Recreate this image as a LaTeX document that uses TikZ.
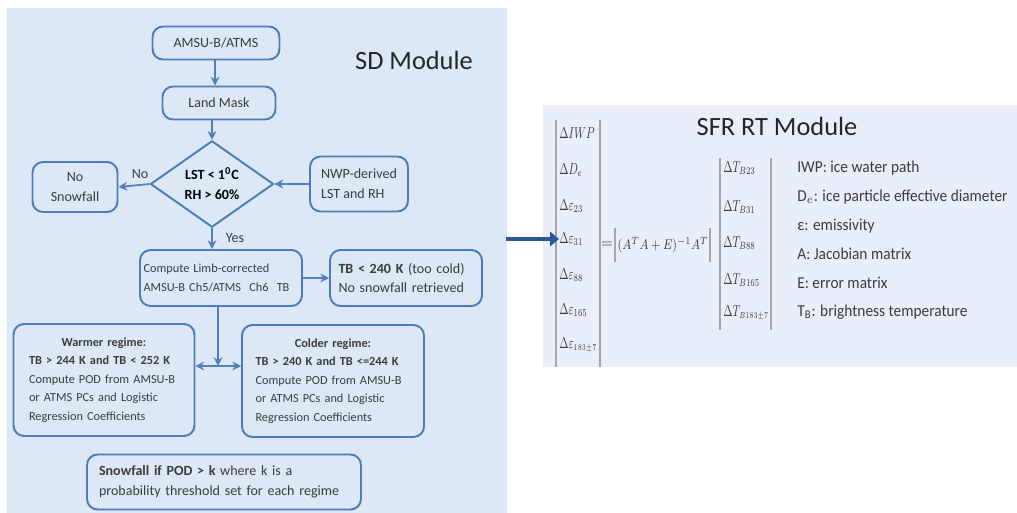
\documentclass[tikz,border=0pt]{standalone}
\usepackage{fontspec}
\usepackage{graphicx}
\setmainfont{Carlito}
\usetikzlibrary{arrows.meta,shapes.geometric}
\definecolor{sdback}{HTML}{DCE8F5}
\definecolor{rtback}{HTML}{E9EEFB}
\definecolor{boxline}{HTML}{4A7EBB}
\definecolor{arrline}{HTML}{4F81BD}
\definecolor{bigblue}{HTML}{2E5596}
\definecolor{txt}{HTML}{3C3C3C}
\tikzset{
  flowbox/.style={draw=boxline, line width=1.1pt, rounded corners=6pt, text=txt, inner sep=0pt},
  flowarrow/.style={draw=arrline, line width=1pt, -{Stealth[length=5pt,width=5pt]}},
  matbar/.style={draw=gray!70, line width=0.6pt},
  matent/.style={anchor=west, inner sep=0pt, text=txt, font=\fontsize{9}{10}\selectfont},
}

\begin{document}
\begin{tikzpicture}[x=0.02cm,y=-0.02cm]
\useasboundingbox (0,0) rectangle (1017,513);
\fill[sdback] (7,8) rectangle (507,513);
\fill[rtback] (543,105) rectangle (1017,367);

\node[text=black!85, font=\fontsize{15}{18}\selectfont] (sdtitle) at (414,60) {SD Module};
\node[flowbox, minimum width=2.54cm, minimum height=0.66cm, font=\fontsize{8}{10}\selectfont] (amsu) at (216,43) {AMSU-B/ATMS};
\node[flowbox, minimum width=2.26cm, minimum height=0.66cm, font=\fontsize{8}{10}\selectfont] (land) at (219,103) {Land Mask};
\node[flowbox, rounded corners=0pt, shape=diamond, minimum width=2.46cm, minimum height=1.64cm, align=center, text=black, font=\bfseries\fontsize{8}{11.3}\selectfont] (check) at (212,184) {LST < 1\textsuperscript{0}C\\RH > 60\%};
\node[flowbox, minimum width=1.7cm, minimum height=1.0cm, align=center, font=\fontsize{8}{11.3}\selectfont] (nosnow) at (75,187) {No\\Snowfall};
\node[flowbox, minimum width=1.96cm, minimum height=1.1cm, align=left, font=\fontsize{8}{11.3}\selectfont] (nwp) at (359,184) {NWP-derived\\LST and RH\hspace{3.6mm}};
\node[flowbox, minimum width=3.24cm, minimum height=1.12cm, text width=3.1cm, align=left, font=\fontsize{7}{10.8}\selectfont] (limb) at (221,278) {Compute Limb-corrected\\AMSU-B Ch5/ATMS~ Ch6~ TB};
\node[flowbox, minimum width=3.04cm, minimum height=1.12cm, text width=2.7cm, align=left, font=\fontsize{8}{10.8}\selectfont] (cold) at (406,278) {\textbf{TB < 240 K} (too cold)\\No snowfall retrieved};
\node[flowbox, minimum width=3.62cm, minimum height=2.24cm, text width=3.0cm, align=left, font=\fontsize{7}{10.5}\selectfont] (warm) at (104,380) {\makebox[\linewidth]{\textbf{Warmer regime:}}\\\textbf{TB > 244 K and TB < 252 K}\\Compute POD from AMSU-B\\or ATMS PCs and Logistic\\Regression Coefficients};
\node[flowbox, minimum width=3.64cm, minimum height=2.24cm, text width=3.1cm, align=left, font=\fontsize{7}{10.5}\selectfont] (colder) at (333,381) {\makebox[\linewidth]{\textbf{Colder regime:}}\\\textbf{TB > 240 K and TB <=244 K}\\Compute POD from AMSU-B\\or ATMS PCs and Logistic\\Regression Coefficients};
\node[flowbox, minimum width=5.48cm, minimum height=1.1cm, text width=5.0cm, align=left, font=\fontsize{8}{11.3}\selectfont] (snow) at (224,482) {\textbf{Snowfall if POD > k} where k is a\\probability threshold set for each regime};

\draw[flowarrow] (amsu.south -| 215,0) -- (land.north -| 215,0);
\draw[flowarrow] (land.south -| check.north) -- (check.north);
\draw[flowarrow] (check.west) -- (nosnow.east);
\draw[flowarrow] (nwp.west) -- (check.east);
\draw[flowarrow] (check.south) -- (limb.north -| check.south);
\draw[flowarrow] (limb.east) -- (cold.west);
\coordinate (split) at (218,366);
\draw[flowarrow] (limb.south -| split) -- (split);
\draw[flowarrow, {Stealth[length=5pt,width=5pt]}-{Stealth[length=5pt,width=5pt]}] (warm.east |- split) -- (colder.west |- split);
\node[text=txt, font=\fontsize{8}{10}\selectfont] (nolabel) at (140,174) {No};
\node[text=txt, font=\fontsize{8}{10}\selectfont] (yeslabel) at (235,238) {Yes};

% SFR RT side
\node[text=black!85, font=\fontsize{15}{18}\selectfont] (rttitle) at (777,126) {SFR RT Module};
\foreach \ent/\yy [count=\k] in {{\Delta IWP}/133, {\Delta D_e}/170, {\Delta\varepsilon_{23}}/206, {\Delta\varepsilon_{31}}/239, {\Delta\varepsilon_{88}}/275, {\Delta\varepsilon_{165}}/310, {\Delta\varepsilon_{\scriptscriptstyle 183\pm7}}/345}
  \node[matent] (dl\k) at (559,\yy) {\scalebox{0.68}[1]{$\ent$}};
\foreach \ent/\yy [count=\k] in {{\Delta T_{B23}}/168, {\Delta T_{B31}}/207, {\Delta T_{B88}}/243, {\Delta T_{B165}}/280, {\Delta T_{\scriptscriptstyle B183\pm7}}/313}
  \node[matent] (dr\k) at (723,\yy) {\scalebox{0.68}[1]{$\ent$}};
\draw[matbar] (556,120) -- (556,367);
\draw[matbar] (600,120) -- (600,367);
\draw[matbar] (720,158) -- (720,330);
\draw[matbar] (771,158) -- (771,330);
\node[text=txt, inner sep=0pt, font=\fontsize{8}{10}\selectfont] (eqsign) at (607,245) {$=$};
\node[text=txt, inner sep=0pt, font=\fontsize{8}{10}\selectfont] (eqn) at (663,245) {\scalebox{0.8}[1]{$(A^{T}A+E)^{-1}A^{T}$}};
\draw[matbar] (615,228) -- (615,262);
\draw[matbar] (710,228) -- (710,262);
\foreach \line/\yy [count=\k] in {{IWP: ice water path}/168, {D$_e$: ice particle effective diameter}/197, {ε: emissivity}/226, {A: Jacobian matrix}/254, {E: error matrix}/283, {T$_\mathrm{B}$: brightness temperature}/312}
  \node[anchor=west, inner sep=0pt, text=txt, font=\fontsize{9.5}{11}\selectfont] (leg\k) at (797,\yy) {\scalebox{0.92}[1]{\line}};

\coordinate (sdedge) at (506,239);
\draw[bigblue, line width=2.8pt, -{Triangle[length=5pt,width=8pt]}] (sdedge) -- (dl4.west);
\end{tikzpicture}
\end{document}
